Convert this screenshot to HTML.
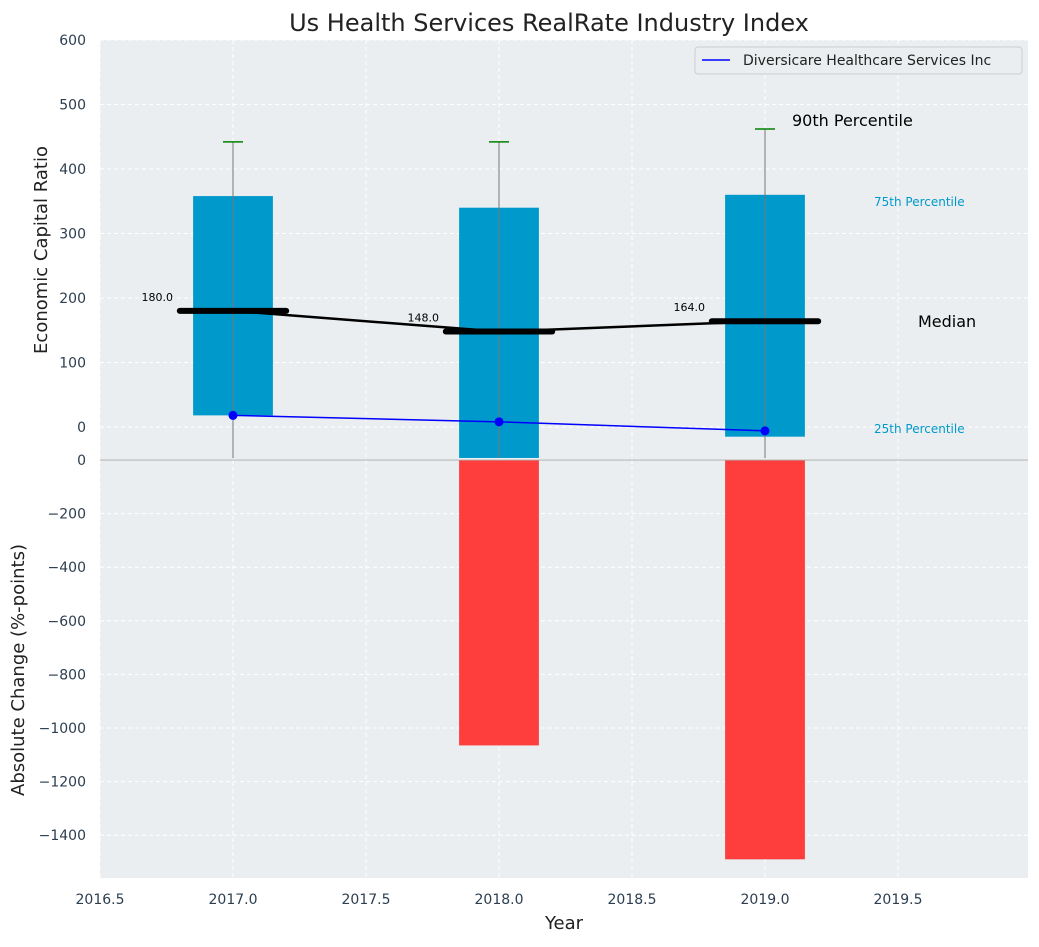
<!DOCTYPE html>
<html><head><meta charset="utf-8"><style>
body{margin:0;background:#fff;font-family:"Liberation Sans","DejaVu Sans",sans-serif}
svg text{font-family:"DejaVu Sans","Liberation Sans",sans-serif}
</style></head><body>
<svg id="c" width="1039" height="942"></svg>
<script>
const years=[2017,2018,2019];
const p25=[18,-48,-15];
const p75=[358,340,360];
const p90=[442,442,462];
const medians=[180,148,164];
const company=[18,8,-6];
const changes=[0,-1065,-1490];
const xTicks=[2016.5,2017,2017.5,2018,2018.5,2019,2019.5];
const topTicks=[0,100,200,300,400,500,600];
const botTicks=[0,-200,-400,-600,-800,-1000,-1200,-1400];

const NS='http://www.w3.org/2000/svg';
const svg=document.getElementById('c');
function el(t,a,txt){const e=document.createElementNS(NS,t);for(const k in a)e.setAttribute(k,a[k]);if(txt!==undefined)e.textContent=txt;svg.appendChild(e);return e;}
const L=100,R=1028,T1=40,B1=459,T2=460,B2=878;
const X=v=>L+(v-2016.5)*266;
const Y1=v=>427-v*0.645;
const YB=v=>460+(-v)*0.268;

let e;
e=el('rect',{x:L,y:T1,width:R-L,height:B1-T1,fill:'#eaeef0'});

e=el('rect',{x:L,y:T2,width:R-L,height:B2-T2,fill:'#eaeef0'});

xTicks.forEach(t=>{
 el('line',{x1:X(t),x2:X(t),y1:T1,y2:B1,stroke:'#fff','stroke-dasharray':'4,3'});
 el('line',{x1:X(t),x2:X(t),y1:T2,y2:B2,stroke:'#fff','stroke-dasharray':'4,3'});
 e=el('text',{x:X(t),y:904,'text-anchor':'middle','font-size':14,fill:'#2c3e50'},t.toFixed(1));
 
});
topTicks.forEach(t=>{
 el('line',{x1:L,x2:R,y1:Y1(t),y2:Y1(t),stroke:'#fff','stroke-dasharray':'4,3'});
 e=el('text',{x:86,y:Y1(t)+5,'text-anchor':'end','font-size':14,fill:'#2c3e50'},t);
 
});
botTicks.forEach(t=>{
 el('line',{x1:L,x2:R,y1:YB(t),y2:YB(t),stroke:'#fff','stroke-dasharray':'4,3'});
 e=el('text',{x:86,y:YB(t)+5,'text-anchor':'end','font-size':14,fill:'#2c3e50'},t===0?'0':'\u2212'+(-t));
 
});
years.forEach((yr,i)=>{
 const lo=Math.max(p25[i],-48);
 e=el('rect',{x:X(yr-0.15),y:Y1(p75[i]),width:X(yr+0.15)-X(yr-0.15),height:Math.min(Y1(lo),B1-1)-Y1(p75[i]),fill:'#0099cc'});
 
 e=el('line',{x1:X(yr),x2:X(yr),y1:Y1(p90[i]),y2:B1-1,stroke:'#777','stroke-width':1});
 
 e=el('line',{x1:X(yr)-10,x2:X(yr)+10,y1:Y1(p90[i]),y2:Y1(p90[i]),stroke:'green','stroke-width':1.5});
 
 e=el('line',{x1:X(yr-0.2),x2:X(yr+0.2),y1:Y1(medians[i]),y2:Y1(medians[i]),stroke:'#000','stroke-width':6,'stroke-linecap':'round'});
 
 e=el('text',{x:X(yr)-60,y:Y1(medians[i])-10,'text-anchor':'end','font-size':11,fill:'#000'},medians[i].toFixed(1));
 
 if(changes[i]<0){
  e=el('rect',{x:X(yr-0.15),y:YB(0),width:X(yr+0.15)-X(yr-0.15),height:YB(changes[i])-YB(0),fill:'#ff3333','fill-opacity':0.95});
  
 }
});
e=el('polyline',{points:years.map((y,i)=>X(y)+','+Y1(medians[i])).join(' '),fill:'none',stroke:'#000','stroke-width':2.5});

e=el('polyline',{points:years.map((y,i)=>X(y)+','+Y1(company[i])).join(' '),fill:'none',stroke:'blue','stroke-width':1.5});

years.forEach((y,i)=>{e=el('circle',{cx:X(y),cy:Y1(company[i]),r:4.5,fill:'blue'});
 });
el('line',{x1:L,x2:R,y1:460,y2:460,stroke:'#aaa','stroke-width':1});
e=el('text',{x:792,y:126,'font-size':16,fill:'#000'},'90th Percentile');
e=el('text',{x:874,y:206,'font-size':12,fill:'#0099cc'},'75th Percentile');
e=el('text',{x:918,y:327,'font-size':16,fill:'#000'},'Median');
e=el('text',{x:874,y:433,'font-size':12,fill:'#0099cc'},'25th Percentile');
e=el('rect',{x:695,y:47,width:327,height:27,fill:'#eaeef0',stroke:'#ccc',rx:3});
el('line',{x1:702,x2:730,y1:60,y2:60,stroke:'blue','stroke-width':1.5});
e=el('text',{x:743,y:65,'font-size':14,fill:'#222'},'Diversicare Healthcare Services Inc');
e=el('text',{x:549,y:31,'text-anchor':'middle','font-size':24,fill:'#222'},'Us Health Services RealRate Industry Index');
e=el('text',{x:564,y:929,'text-anchor':'middle','font-size':18,fill:'#222'},'Year');
e=el('text',{x:0,y:0,'text-anchor':'middle','font-size':18,fill:'#222',transform:'translate(47,250) rotate(-90)'},'Economic Capital Ratio');
e=el('text',{x:0,y:0,'text-anchor':'middle','font-size':18,fill:'#222',transform:'translate(24,670) rotate(-90)'},'Absolute Change (%-points)');
</script>
</body></html>
